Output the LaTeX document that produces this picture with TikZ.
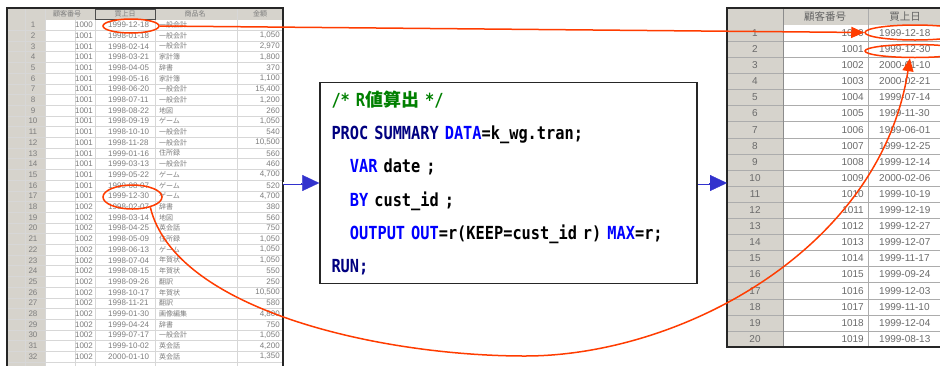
\documentclass[tikz,border=0pt]{standalone}
\usepackage{fontspec}
\setmainfont{Liberation Sans}
\newfontfamily\codefont{DejaVu Sans Mono}[FakeStretch=0.85]
\newfontfamily\cjk{Noto Sans CJK JP}
\usetikzlibrary{positioning,shapes.geometric,arrows.meta}

\definecolor{sasgreen}{RGB}{0,128,0}
\definecolor{sasnavy}{RGB}{0,0,128}
\definecolor{sasblue}{RGB}{0,0,255}
\definecolor{markred}{RGB}{255,60,0}
\definecolor{flowblue}{RGB}{50,50,205}
\definecolor{cellgray}{RGB}{214,211,204}
\definecolor{gridgray}{RGB}{215,215,215}
\definecolor{inkgray}{RGB}{125,125,125}

\newcommand\kw[1]{\textcolor{sasblue}{#1}}
\newcommand\pc[1]{\textcolor{sasnavy}{#1}}

\tikzset{
  codebox/.style={draw=black!85,line width=1.5pt,fill=white,text width=354pt,
    align=left,inner xsep=11.5pt,minimum height=201pt,
    font=\codefont\bfseries\fontsize{18}{33.3}\selectfont},
  sheetframe/.style={draw=black!85,line width=2pt,anchor=north west,inner sep=0pt,outer sep=0pt},
  smallcell/.style={text=inkgray,inner sep=0pt,font=\fontsize{8}{9}\selectfont},
  smallcjk/.style={text=inkgray,inner sep=0pt,font=\cjk\fontsize{7}{8}\selectfont},
  bigcell/.style={text=inkgray!85!black,inner sep=0pt,font=\fontsize{10}{11}\selectfont},
  bigcjk/.style={text=inkgray!80!black,inner sep=0pt,font=\cjk\fontsize{10.5}{11}\selectfont},
  markring/.style={ellipse,draw=markred,line width=1.5pt,inner sep=0pt},
  markline/.style={draw=markred,line width=1.5pt,-{Triangle[length=13pt,width=11pt]}},
  flowshaft/.style={draw=flowblue,double=white,double distance=1.2pt,line width=0.9pt,shorten >=15pt},
  flowtip/.style={draw=flowblue,fill=flowblue,line width=0.3pt,-{Triangle[length=17pt,width=16pt]}}
}

\begin{document}
\begin{tikzpicture}[x=1pt,y=-1pt]
\useasboundingbox (0,0) rectangle (940,365);
\clip (0,0) rectangle (940,365);
\fill[white] (0,0) rectangle (940,365);

% left sheet
\fill[cellgray] (7,8) rectangle (283,19.5);
\fill[cellgray] (7,19.5) rectangle (45,380);
\foreach \k in {1,...,34}
  \draw[gridgray] (7,{19.5+10.7*\k}) -- (283,{19.5+10.7*\k});
\foreach \vx in {25,45,75,95,155,237}
  \draw[gridgray] (\vx,8) -- (\vx,380);
\draw[black!70] (95,9) rectangle (155,19);
\node[smallcjk] (hdL1) at (67,14) {顧客番号};
\node[smallcjk] (hdL2) at (125,14) {買上日};
\node[smallcjk] (hdL3) at (195,14) {商品名};
\node[smallcjk] (hdL4) at (260,14) {金額};
\foreach \id/\dt/\it/\am [count=\i] in {
  1000/1999-12-18/一般会計/{},
  1001/1998-01-18/一般会計/{1,050},
  1001/1998-02-14/一般会計/{2,970},
  1001/1998-03-21/家計簿/{1,800},
  1001/1998-04-05/辞書/{370},
  1001/1998-05-16/家計簿/{1,100},
  1001/1998-06-20/一般会計/{15,400},
  1001/1998-07-11/一般会計/{1,200},
  1001/1998-08-22/地図/{260},
  1001/1998-09-19/ゲーム/{1,050},
  1001/1998-10-10/一般会計/{540},
  1001/1998-11-28/一般会計/{10,500},
  1001/1999-01-16/住所録/{560},
  1001/1999-03-13/一般会計/{460},
  1001/1999-05-22/ゲーム/{4,700},
  1001/1999-08-07/ゲーム/{520},
  1001/1999-12-30/ゲーム/{4,700},
  1002/1998-02-07/辞書/{380},
  1002/1998-03-14/地図/{560},
  1002/1998-04-25/英会話/{750},
  1002/1998-05-09/住所録/{1,050},
  1002/1998-06-13/ゲーム/{1,050},
  1002/1998-07-04/年賀状/{1,050},
  1002/1998-08-15/年賀状/{550},
  1002/1998-09-26/翻訳/{250},
  1002/1998-10-17/年賀状/{10,500},
  1002/1998-11-21/翻訳/{580},
  1002/1999-01-30/画像編集/{4,800},
  1002/1999-04-24/辞書/{750},
  1002/1999-07-17/一般会計/{1,050},
  1002/1999-10-02/英会話/{4,200},
  1002/2000-01-10/英会話/{1,350}} {
  \node[smallcell] (lnum\i) at (33,{14.15+10.7*\i}) {\i};
  \node[smallcell] (lid\i) at (84,{14.15+10.7*\i}) {\id};
  \node[smallcell,anchor=west] (ldt\i) at (108,{14.15+10.7*\i}) {\dt};
  \node[smallcjk,anchor=west] (lit\i) at (159,{14.15+10.7*\i}) {\it};
  \node[smallcell,anchor=east] (lam\i) at (280,{14.15+10.7*\i}) {\am};
}
\node[sheetframe,minimum width=276,minimum height=420] (sheetL) at (7,8) {};

% right sheet
\fill[cellgray] (727,8) rectangle (960,25);
\fill[cellgray] (727,25) rectangle (783,347);
\foreach \k in {1,...,19}
  \draw[gridgray!80!black] (727,{25+16.1*\k}) -- (960,{25+16.1*\k});
\draw[black!45] (783,8) -- (783,347);
\draw[gridgray!80!black] (868,8) -- (868,347);
\node[bigcjk] (hdR1) at (825,16.5) {顧客番号};
\node[bigcjk] (hdR2) at (905,16.5) {買上日};
\foreach \id/\dt [count=\i] in {
  1000/1999-12-18, 1001/1999-12-30, 1002/2000-01-10, 1003/2000-02-21,
  1004/1999-07-14, 1005/1999-11-30, 1006/1999-06-01, 1007/1999-12-25,
  1008/1999-12-14, 1009/2000-02-06, 1010/1999-10-19, 1011/1999-12-19,
  1012/1999-12-27, 1013/1999-12-07, 1014/1999-11-17, 1015/1999-09-24,
  1016/1999-12-03, 1017/1999-11-10, 1018/1999-12-04, 1019/1999-08-13} {
  \node[bigcell] (rnum\i) at (755,{16.95+16.1*\i}) {\i};
  \node[bigcell,anchor=east] (rid\i) at (864,{16.95+16.1*\i}) {\id};
  \node[bigcell,anchor=west] (rdt\i) at (879,{16.95+16.1*\i}) {\dt};
}
\node[sheetframe,minimum width=240,minimum height=339] (sheetR) at (727,8) {};

% program
\node[codebox] (code) at (508.5,183) {%
  \textcolor{sasgreen}{/* R{\cjk 値算出} */}\\
  \pc{PROC SUMMARY} \kw{DATA}=k\_wg.tran;\\
  \phantom{MM}\kw{VAR} date ;\\
  \phantom{MM}\kw{BY} cust\_id ;\\
  \phantom{MM}\kw{OUTPUT} \kw{OUT}=r(KEEP=cust\_id r) \kw{MAX}=r;\\
  \pc{RUN;}};

\draw[flowshaft] (sheetL.east |- code.west) -- (code.west);
\draw[flowtip] ([xshift=-18pt]code.west) -- (code.west);
\draw[flowshaft] (code.east) -- (sheetR.west |- code.east);
\draw[flowtip] ([xshift=-18pt]sheetR.west |- code.east) -- (sheetR.west |- code.east);

% marks
\node[markring,minimum width=56,minimum height=14] (selA) at (131,26) {};
\node[markring,minimum width=59,minimum height=24] (selB) at (132.5,197) {};
\node[markring,minimum width=100,minimum height=15] (hitA) at (915,32.5) {};
\node[markring,minimum width=100,minimum height=13] (hitB) at (915,51) {};

\draw[markline] (selA.east) -- (hitA.west);
\draw[markline] (selB.-30) .. controls (175,310) and (380,356) .. (525,356)
  .. controls (680,356) and (880,250) .. (hitB.235);
\end{tikzpicture}
\end{document}
